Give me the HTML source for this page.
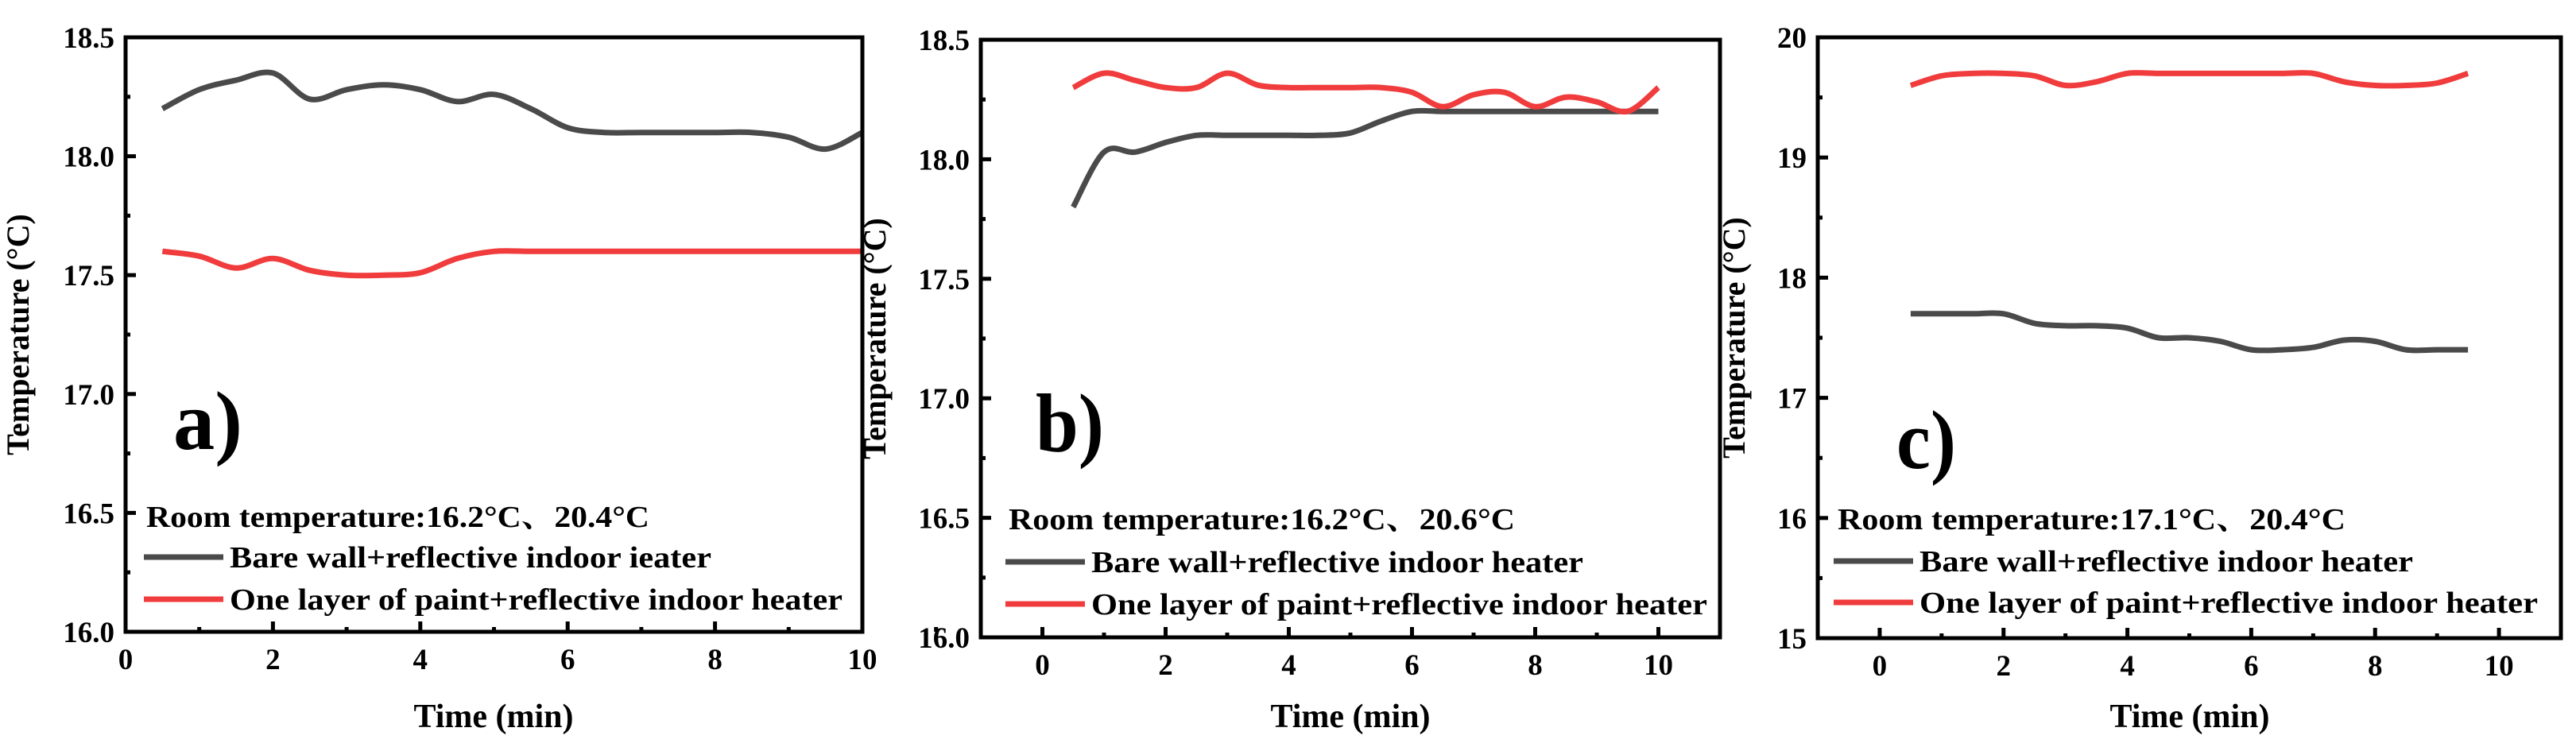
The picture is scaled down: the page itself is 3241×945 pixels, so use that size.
<!DOCTYPE html>
<html><head><meta charset="utf-8"><style>
html,body{margin:0;padding:0;background:#fff;}
svg{display:block;font-family:"Liberation Serif","Noto Serif CJK SC",serif;font-weight:bold;}
</style></head><body>
<svg id="fig" width="3241" height="945" viewBox="0 0 3241 945" xmlns="http://www.w3.org/2000/svg"></svg>
<script>
const timesA = [0.5,1,1.5,2,2.5,3,3.5,4,4.5,5,5.5,6,6.5,7,7.5,8,8.5,9,9.5,10];
const bareA  = [18.2,18.28,18.32,18.35,18.24,18.28,18.3,18.28,18.23,18.26,18.2,18.12,18.1,18.1,18.1,18.1,18.1,18.08,18.03,18.1];
const paintA = [17.6,17.58,17.53,17.57,17.52,17.5,17.5,17.51,17.57,17.6,17.6,17.6,17.6,17.6,17.6,17.6,17.6,17.6,17.6,17.6];
const timesB = [0.5,1,1.5,2,2.5,3,3.5,4,4.5,5,5.5,6,6.5,7,7.5,8,8.5,9,9.5,10];
const bareB  = [17.8,18.03,18.03,18.07,18.1,18.1,18.1,18.1,18.1,18.11,18.16,18.2,18.2,18.2,18.2,18.2,18.2,18.2,18.2,18.2];
const paintB = [18.3,18.36,18.33,18.3,18.3,18.36,18.31,18.3,18.3,18.3,18.3,18.28,18.22,18.27,18.28,18.22,18.26,18.24,18.2,18.3];
const timesC = [0.5,1,1.5,2,2.5,3,3.5,4,4.5,5,5.5,6,6.5,7,7.5,8,8.5,9,9.5];
const bareC  = [17.7,17.7,17.7,17.7,17.62,17.6,17.6,17.58,17.5,17.5,17.47,17.4,17.4,17.42,17.48,17.47,17.4,17.4,17.4];
const paintC = [19.6,19.68,19.7,19.7,19.68,19.6,19.63,19.7,19.7,19.7,19.7,19.7,19.7,19.7,19.63,19.6,19.6,19.62,19.7];
const xTicksAB = [0,2,4,6,8,10];
const yTicksAB = ["16.0","16.5","17.0","17.5","18.0","18.5"];
const yTicksC = ["15","16","17","18","19","20"];
const roomA = "Room temperature:16.2°C、20.4°C";
const roomB = "Room temperature:16.2°C、20.6°C";
const roomC = "Room temperature:17.1°C、20.4°C";
const legBareA = "Bare wall+reflective indoor ieater";
const legBare = "Bare wall+reflective indoor heater";
const legPaint = "One layer of paint+reflective indoor heater";

const NS="http://www.w3.org/2000/svg";
const svg=document.getElementById('fig');
function mk(tag,attrs,parent){const e=document.createElementNS(NS,tag);for(const k in attrs)e.setAttribute(k,attrs[k]);(parent||svg).appendChild(e);return e;}
function txt(s,attrs,parent){const e=mk('text',attrs,parent);e.textContent=s;return e;}
function smooth(pts){let d='M'+pts[0][0]+','+pts[0][1];for(let i=0;i<pts.length-1;i++){const p0=pts[i-1]||pts[i],p1=pts[i],p2=pts[i+1],p3=pts[i+2]||p2;const c1=[p1[0]+(p2[0]-p0[0])/6,p1[1]+(p2[1]-p0[1])/6],c2=[p2[0]-(p3[0]-p1[0])/6,p2[1]-(p3[1]-p1[1])/6];d+=' C'+c1[0].toFixed(1)+','+c1[1].toFixed(1)+' '+c2[0].toFixed(1)+','+c2[1].toFixed(1)+' '+p2[0].toFixed(1)+','+p2[1].toFixed(1);}return d;}

function panel(cfg){
  const g=mk('g',{});
  
  
  const X=v=>cfg.L+(v-cfg.x0)/(cfg.x1-cfg.x0)*(cfg.R-cfg.L);
  const Y=v=>cfg.B-(v-cfg.y0)/(cfg.y1-cfg.y0)*(cfg.B-cfg.T);
  // series
  const s1=mk('path',{d:smooth(cfg.t.map((t,i)=>[X(t),Y(cfg.bare[i])])),fill:'none',stroke:'#4a4a4a','stroke-width':7,'stroke-linejoin':'round'},g);
  
  
  const s2=mk('path',{d:smooth(cfg.t.map((t,i)=>[X(t),Y(cfg.paint[i])])),fill:'none',stroke:'#f03c3c','stroke-width':7,'stroke-linejoin':'round'},g);
  
  
  // frame
  const fr=mk('rect',{x:cfg.L,y:cfg.T,width:cfg.R-cfg.L,height:cfg.B-cfg.T,fill:'none',stroke:'#000','stroke-width':5},g);
  
  
  // x ticks
  cfg.xt.forEach(v=>{const x=X(v);
    mk('line',{x1:x,x2:x,y1:cfg.B,y2:cfg.B-13,stroke:'#000','stroke-width':5},g);
    mk('line',{x1:X(v+1),x2:X(v+1),y1:cfg.B,y2:cfg.B-6,stroke:'#000','stroke-width':5},g);
    const t=txt(String(v),{x:x,y:cfg.B+47,'font-size':37,'text-anchor':'middle'},g);
    
    
  });
  // y ticks
  cfg.yt.forEach((s,i)=>{const v=parseFloat(s),y=Y(v);
    mk('line',{x1:cfg.L,x2:cfg.L+13,y1:y,y2:y,stroke:'#000','stroke-width':5},g);
    if(i<cfg.yt.length-1){const ym=Y(v+cfg.ystep/2);mk('line',{x1:cfg.L,x2:cfg.L+6,y1:ym,y2:ym,stroke:'#000','stroke-width':5},g);}
    const t=txt(s,{x:cfg.L-14,y:y+13,'font-size':37,'text-anchor':'end'},g);
    
    
  });
  const yl=txt('Temperature (°C)',{x:0,y:0,'font-size':40,'text-anchor':'middle',transform:'translate('+(cfg.ylx+14)+','+((cfg.T+cfg.B)/2)+') rotate(-90)'},g);
  
  
  const xl=txt('Time (min)',{x:cfg.xlx,y:915,'font-size':42,'text-anchor':'middle'},g);
  
  
  const pl=txt(cfg.id+')',{x:cfg.px,y:cfg.py,'font-size':105,textLength:cfg.pw,lengthAdjust:'spacingAndGlyphs'},g);
  
  
  const rt=txt(cfg.room,{x:cfg.rx,y:cfg.ry+13,'font-size':38,textLength:cfg.rw,lengthAdjust:'spacingAndGlyphs'},g);
  
  
  const l1=mk('line',{x1:cfg.lx0,x2:cfg.lx1,y1:cfg.l1y,y2:cfg.l1y,stroke:'#4a4a4a','stroke-width':7},g);
  
  
  const t1=txt(cfg.legBare,{x:cfg.lx1+8,y:cfg.l1y+13,'font-size':38,textLength:cfg.w1,lengthAdjust:'spacingAndGlyphs'},g);
  
  
  const l2=mk('line',{x1:cfg.lx0,x2:cfg.lx1,y1:cfg.l2y,y2:cfg.l2y,stroke:'#f03c3c','stroke-width':7},g);
  
  
  const t2=txt(legPaint,{x:cfg.lx1+8,y:cfg.l2y+13,'font-size':38,textLength:cfg.w2,lengthAdjust:'spacingAndGlyphs'},g);
  
  
}
panel({id:'a',L:158,R:1085,T:47,B:795,x0:0,x1:10,y0:16,y1:18.5,ystep:0.5,t:timesA,bare:bareA,paint:paintA,xt:xTicksAB,yt:yTicksAB,
  ylx:22,xlx:621,px:218,py:565,pw:87,room:roomA,rx:184,ry:650,rw:633,lx0:181,lx1:281,l1y:701,l2y:754,legBare:legBareA,w1:606,w2:771});
panel({id:'b',L:1234,R:2164,T:50,B:802,x0:-1,x1:11,y0:16,y1:18.5,ystep:0.5,t:timesB,bare:bareB,paint:paintB,xt:xTicksAB,yt:yTicksAB,
  ylx:1100,xlx:1699,px:1303,py:568,pw:86,room:roomB,rx:1269,ry:653,rw:637,lx0:1265,lx1:1365,l1y:707,l2y:760,legBare:legBare,w1:619,w2:775});
panel({id:'c',L:2287,R:3222,T:47,B:803,x0:-1,x1:11,y0:15,y1:20,ystep:1,t:timesC,bare:bareC,paint:paintC,xt:xTicksAB,yt:yTicksC,
  ylx:2181,xlx:2755,px:2386,py:589,pw:75,room:roomC,rx:2312,ry:653,rw:639,lx0:2307,lx1:2407,l1y:706,l2y:758,legBare:legBare,w1:621,w2:778});
</script>
</body></html>
